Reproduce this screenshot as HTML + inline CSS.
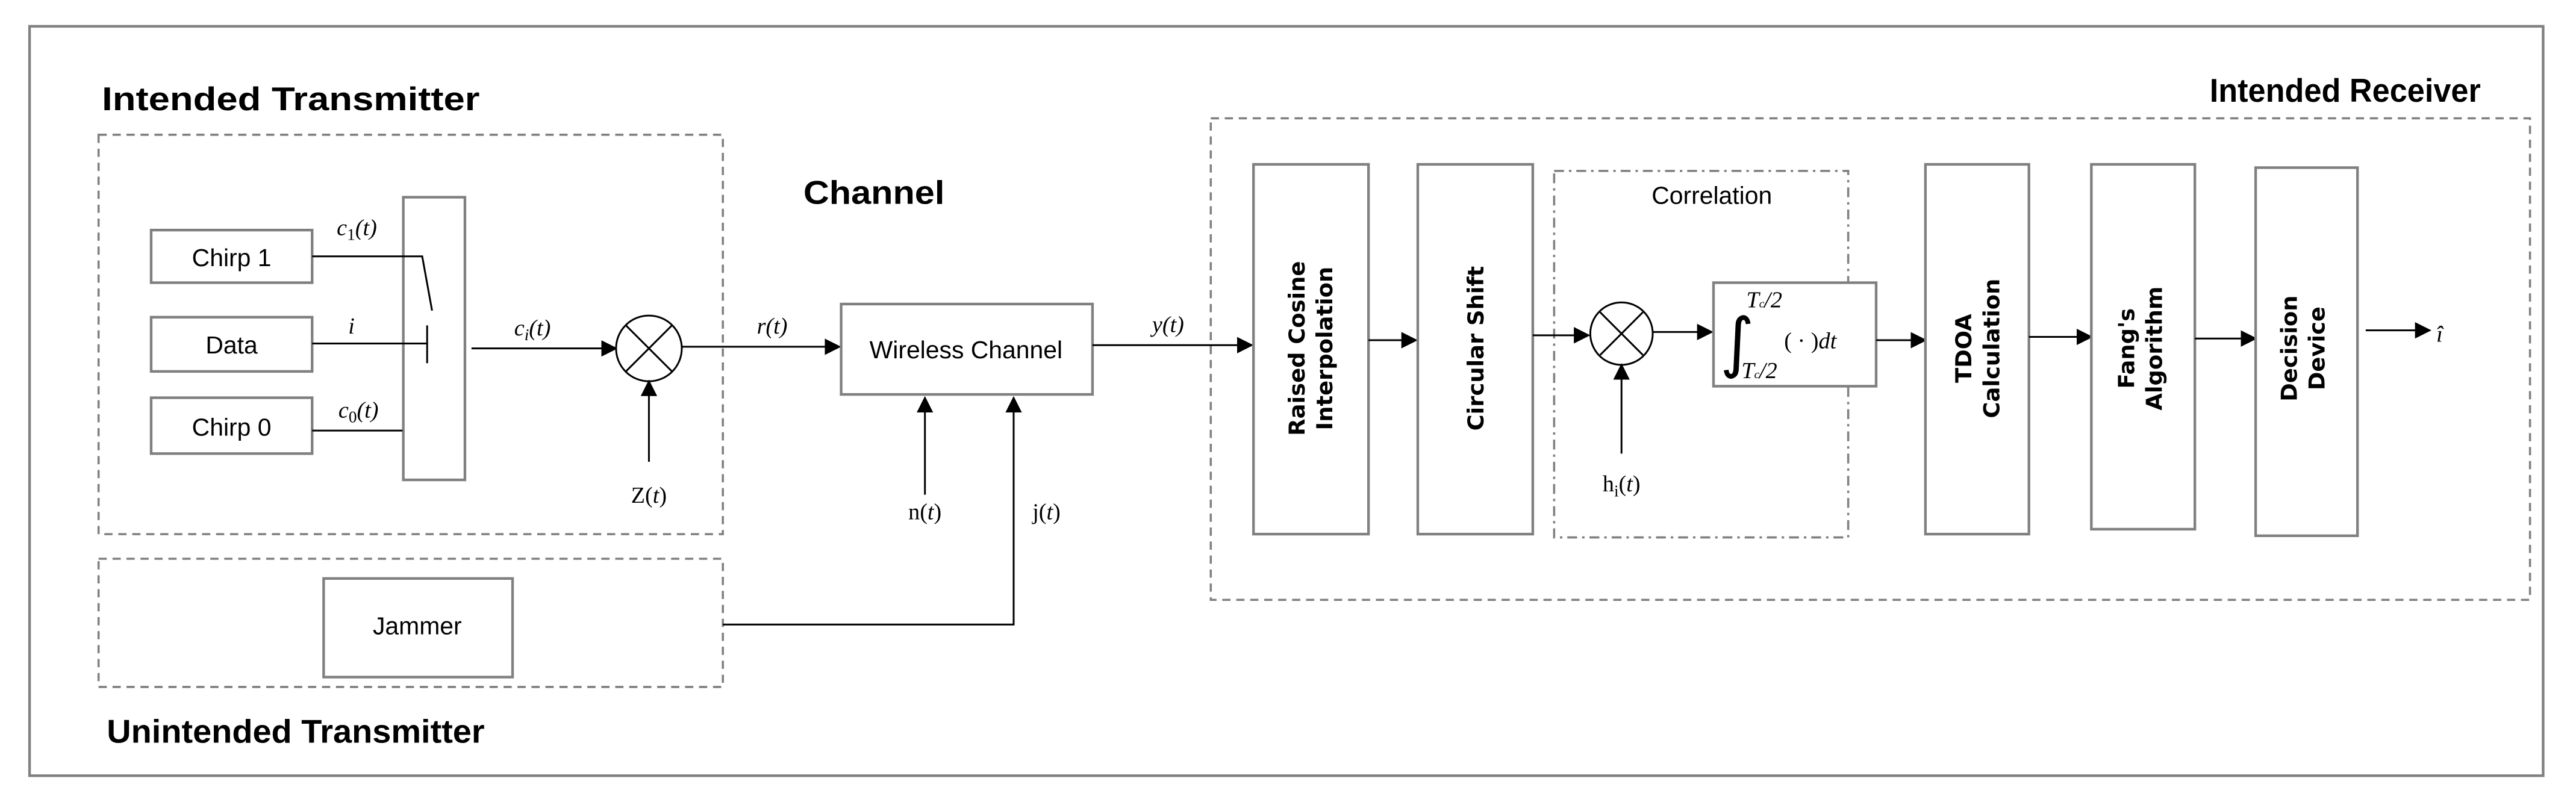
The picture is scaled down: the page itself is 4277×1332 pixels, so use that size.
<!DOCTYPE html>
<html><head><meta charset="utf-8"><style>
html,body{margin:0;padding:0;background:#fff;}
svg{display:block;}
.box{fill:#fff;stroke:#808080;stroke-width:1.6;}
.dash{fill:none;stroke:#808080;stroke-width:1.3;stroke-dasharray:5,3.5;}
.dd{fill:none;stroke:#808080;stroke-width:1.3;stroke-dasharray:6,3,1.5,3;}
.ln{stroke:#000;stroke-width:1.1;fill:none;}
.t{font-family:"Liberation Sans",sans-serif;}
.h{font-family:"Liberation Sans",sans-serif;font-weight:bold;font-size:20px;}
.m{font-family:"Liberation Serif",serif;font-size:14px;}
.v{font-family:"DejaVu Sans",sans-serif;font-weight:bold;font-size:13.5px;}
</style></head><body>
<svg width="4277" height="1332" viewBox="0 0 1568 488" preserveAspectRatio="none" xmlns="http://www.w3.org/2000/svg">
<defs><marker id="a" markerWidth="10" markerHeight="10" refX="9" refY="5" orient="auto" markerUnits="userSpaceOnUse"><path d="M0,0 L10,5 L0,10 z" fill="#000"/></marker></defs>
<rect x="18" y="16" width="1530" height="456" fill="#fff" stroke="#808080" stroke-width="1.6"/>
<text class="h" x="62" y="67" textLength="230" lengthAdjust="spacingAndGlyphs">Intended Transmitter</text>
<text class="h" x="65" y="452" textLength="230" lengthAdjust="spacingAndGlyphs">Unintended Transmitter</text>
<text class="h" x="489" y="124" textLength="86" lengthAdjust="spacingAndGlyphs">Channel</text>
<text class="h" x="1345" y="62" textLength="165" lengthAdjust="spacingAndGlyphs">Intended Receiver</text>
<rect class="dash" x="60" y="82" width="380" height="243"/>
<rect class="dash" x="60" y="340" width="380" height="78"/>
<rect class="dash" x="737" y="72" width="803" height="293"/>
<rect class="box" x="92" y="140" width="98" height="32"/>
<rect class="box" x="92" y="193" width="98" height="33"/>
<rect class="box" x="92" y="242" width="98" height="34"/>
<text class="t" x="141" y="162" font-size="15" text-anchor="middle">Chirp 1</text>
<text class="t" x="141" y="215" font-size="15" text-anchor="middle">Data</text>
<text class="t" x="141" y="265" font-size="15" text-anchor="middle">Chirp 0</text>
<rect class="box" x="245.5" y="120" width="37.5" height="172"/>
<polyline class="ln" points="190,156 257,156 263,189"/>
<line class="ln" x1="190" y1="209" x2="260" y2="209"/>
<line class="ln" x1="260" y1="198" x2="260" y2="221"/>
<line class="ln" x1="190" y1="262" x2="245" y2="262"/>
<text class="m" x="205" y="143" font-style="italic">c<tspan font-size="10" dy="3" font-style="normal">1</tspan><tspan dy="-3">(t)</tspan></text>
<text class="m" x="212" y="203" font-style="italic">i</text>
<text class="m" x="206" y="254" font-style="italic">c<tspan font-size="10" dy="3" font-style="normal">0</tspan><tspan dy="-3">(t)</tspan></text>
<line class="ln" x1="287" y1="212" x2="375" y2="212" marker-end="url(#a)"/>
<text class="m" x="313" y="204" font-style="italic">c<tspan font-size="10" dy="3">i</tspan><tspan dy="-3">(t)</tspan></text>
<circle cx="395" cy="212" r="20" fill="#fff" stroke="#000" stroke-width="1.1"/>
<line class="ln" x1="381" y1="198" x2="409" y2="226"/><line class="ln" x1="409" y1="198" x2="381" y2="226"/>
<line class="ln" x1="395" y1="281" x2="395" y2="232" marker-end="url(#a)"/>
<text class="m" x="395" y="306" text-anchor="middle">Z(<tspan font-style="italic">t</tspan>)</text>
<line class="ln" x1="415" y1="211" x2="511" y2="211" marker-end="url(#a)"/>
<text class="m" x="470" y="203" text-anchor="middle" font-style="italic">r(t)</text>
<rect class="box" x="512" y="185" width="153" height="55"/>
<text class="t" x="588" y="218" font-size="15" text-anchor="middle">Wireless Channel</text>
<line class="ln" x1="563" y1="301" x2="563" y2="242" marker-end="url(#a)"/>
<text class="m" x="563" y="316" text-anchor="middle">n(<tspan font-style="italic">t</tspan>)</text>
<polyline class="ln" points="440,380 617,380 617,242" marker-end="url(#a)"/>
<text class="m" x="637" y="316" text-anchor="middle">j(<tspan font-style="italic">t</tspan>)</text>
<line class="ln" x1="665" y1="210" x2="762" y2="210" marker-end="url(#a)"/>
<text class="m" x="711" y="202" text-anchor="middle" font-style="italic">y(t)</text>
<rect class="box" x="763" y="100" width="70" height="225"/>
<text class="v" transform="translate(794,212) rotate(-90)" text-anchor="middle">Raised Cosine</text>
<text class="v" transform="translate(811,212) rotate(-90)" text-anchor="middle">Interpolation</text>
<line class="ln" x1="833" y1="207" x2="862" y2="207" marker-end="url(#a)"/>
<rect class="box" x="863" y="100" width="70" height="225"/>
<text class="v" transform="translate(903,212) rotate(-90)" text-anchor="middle">Circular Shift</text>
<rect class="dd" x="946" y="104" width="179" height="223"/>
<text class="t" x="1042" y="124" font-size="15" text-anchor="middle">Correlation</text>
<line class="ln" x1="933" y1="204" x2="967" y2="204" marker-end="url(#a)"/>
<circle cx="987" cy="203" r="19" fill="#fff" stroke="#000" stroke-width="1.1"/>
<line class="ln" x1="974" y1="190" x2="1000" y2="216"/><line class="ln" x1="1000" y1="190" x2="974" y2="216"/>
<line class="ln" x1="987" y1="276" x2="987" y2="222" marker-end="url(#a)"/>
<text class="m" x="987" y="299" text-anchor="middle">h<tspan font-size="10" dy="3">i</tspan><tspan dy="-3">(</tspan><tspan font-style="italic">t</tspan>)</text>
<line class="ln" x1="1006" y1="202" x2="1042" y2="202" marker-end="url(#a)"/>
<rect class="box" x="1043" y="172" width="99" height="63"/>
<text x="1047" y="222" font-size="40" font-family="DejaVu Sans, sans-serif">∫</text>
<text class="m" x="1063" y="187" font-size="10" font-style="italic">T<tspan font-size="7">c</tspan>/2</text>
<text class="m" x="1060" y="230" font-size="10" font-style="italic">T<tspan font-size="7">c</tspan>/2</text>
<text class="m" x="1086" y="212" font-size="15">( · )<tspan font-style="italic">dt</tspan></text>
<line class="ln" x1="1142" y1="207" x2="1172" y2="207" marker-end="url(#a)"/>
<rect class="box" x="1172" y="100" width="63" height="225"/>
<text class="v" transform="translate(1200,212) rotate(-90)" text-anchor="middle">TDOA</text>
<text class="v" transform="translate(1217,212) rotate(-90)" text-anchor="middle">Calculation</text>
<line class="ln" x1="1235" y1="205" x2="1273" y2="205" marker-end="url(#a)"/>
<rect class="box" x="1273" y="100" width="63" height="222"/>
<text class="v" transform="translate(1299,212) rotate(-90)" text-anchor="middle">Fang's</text>
<text class="v" transform="translate(1316,212) rotate(-90)" text-anchor="middle">Algorithm</text>
<line class="ln" x1="1336" y1="206" x2="1373" y2="206" marker-end="url(#a)"/>
<rect class="box" x="1373" y="102" width="62" height="224"/>
<text class="v" transform="translate(1398,212) rotate(-90)" text-anchor="middle">Decision</text>
<text class="v" transform="translate(1415,212) rotate(-90)" text-anchor="middle">Device</text>
<line class="ln" x1="1440" y1="201" x2="1479" y2="201" marker-end="url(#a)"/>
<text class="m" x="1483" y="208" font-size="16" font-style="italic">î</text>
<rect class="box" x="197" y="352" width="115" height="60"/>
<text class="t" x="254" y="386" font-size="15" text-anchor="middle">Jammer</text>
</svg>
</body></html>
